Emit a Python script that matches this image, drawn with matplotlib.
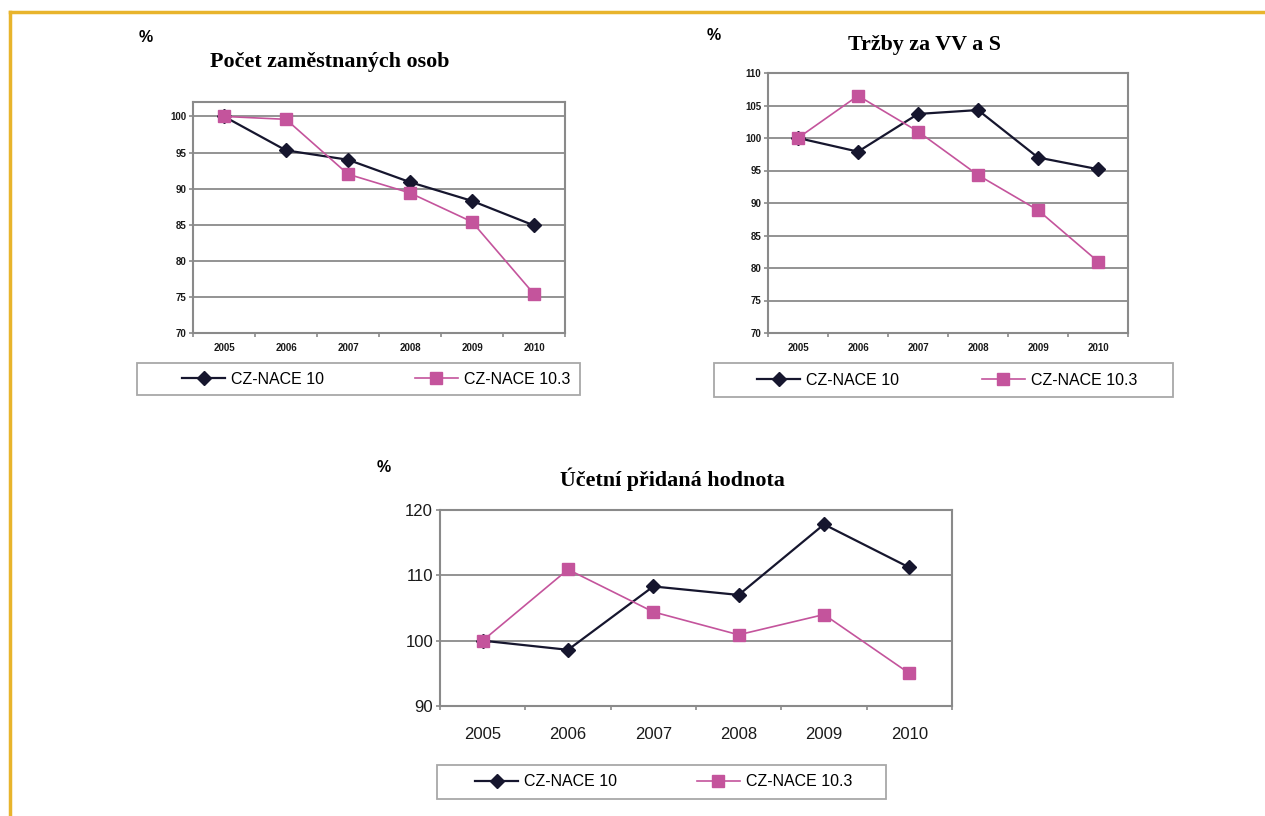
import matplotlib
matplotlib.use("Agg")
import matplotlib.pyplot as plt
from matplotlib.lines import Line2D
from matplotlib.patches import Rectangle
from matplotlib.ticker import FixedLocator

# Data
years = ["2005", "2006", "2007", "2008", "2009", "2010"]
series_names = ["CZ-NACE 10", "CZ-NACE 10.3"]

employees_10 = [100, 95.3, 94.0, 90.9, 88.3, 84.9]
employees_103 = [100, 99.6, 92.0, 89.4, 85.4, 75.4]

sales_10 = [100, 97.9, 103.7, 104.3, 97.0, 95.2]
sales_103 = [100, 106.5, 101.0, 94.3, 88.9, 81.0]

value_added_10 = [100, 98.6, 108.3, 107.0, 117.8, 111.2]
value_added_103 = [100, 110.9, 104.4, 100.9, 104.0, 95.0]

titles = ["Počet zaměstnaných osob", "Tržby za VV a S", "Účetní přidaná hodnota"]

DARK = "#16162e"
PINK = "#c4549c"
GRID = "#8a8a8a"
GOLD = "#e8b42c"

plt.rcParams["font.family"] = ["Liberation Sans", "DejaVu Sans"]

W, H = 1265, 816
fig = plt.figure(figsize=(W / 100, H / 100), dpi=100)

# gold frame lines (top and left)
fig.add_artist(Line2D([0.008, 1.0], [1 - 11.5 / H] * 2, color=GOLD, lw=2.5,
                      transform=fig.transFigure))
fig.add_artist(Line2D([10 / W] * 2, [0.0, 1 - 11.5 / H], color=GOLD, lw=2.5,
                      transform=fig.transFigure))


def frac_rect(x0, y0, x1, y1):
    return [x0 / W, 1 - y1 / H, (x1 - x0) / W, (y1 - y0) / H]


def draw_panel(rect, s10, s103, ylim, yticks, tick_size, tick_weight, xpad,
               title, title_xy, pct_xy, box_rect, legend_rect):
    ax = fig.add_axes(rect)
    x = list(range(len(years)))
    # second series drawn on top, like the original
    ax.plot(x, s10, color=DARK, lw=1.6, marker="D", ms=7,
            label=series_names[0], zorder=3)
    ax.plot(x, s103, color=PINK, lw=1.2, marker="s", ms=8.5,
            label=series_names[1], zorder=4)
    ax.set_xlim(-0.5, len(years) - 0.5)
    ax.set_ylim(*ylim)
    ax.set_yticks(yticks)
    ax.set_xticks(x)
    ax.set_xticklabels(years)
    ax.xaxis.set_minor_locator(FixedLocator([i - 0.5 for i in range(len(years) + 1)]))
    ax.tick_params(axis="x", which="major", length=0, pad=xpad)
    ax.tick_params(axis="x", which="minor", length=3, color=GRID, width=1.2)
    ax.tick_params(axis="y", length=3, color=GRID, width=1.2, pad=2)
    for lab in ax.get_xticklabels() + ax.get_yticklabels():
        lab.set_fontsize(tick_size)
        lab.set_fontweight(tick_weight)
        lab.set_color("#1a1a1a")
    ax.grid(axis="y", color=GRID, lw=1.3)
    ax.set_axisbelow(True)
    for sp in ax.spines.values():
        sp.set_color(GRID)
        sp.set_linewidth(1.5)

    fig.text(title_xy[0], title_xy[1], title, ha="center", va="center",
             family="Liberation Serif", fontweight="bold", fontsize=15.8)
    fig.text(pct_xy[0], pct_xy[1], "%", ha="center", va="center",
             fontweight="bold", fontsize=11.5)

    # legend box
    fig.add_artist(Rectangle((box_rect[0], box_rect[1]), box_rect[2], box_rect[3],
                             transform=fig.transFigure, fill=False,
                             edgecolor="#a8a8a8", lw=1.3))
    fig.legend(handles=ax.get_lines(), loc="center", ncol=2,
               bbox_to_anchor=legend_rect, bbox_transform=fig.transFigure,
               mode="expand", fontsize=11.5, frameon=False,
               handlelength=2.7, handletextpad=0.35, borderpad=0,
               borderaxespad=0)
    return ax


draw_panel(frac_rect(193, 102, 565, 333), employees_10, employees_103,
           (70, 102), list(range(70, 101, 5)), 7, "bold", 7,
           titles[0], (330 / W, 1 - 62 / H), (146 / W, 1 - 38 / H),
           frac_rect(137, 363, 580, 395), frac_rect(182, 363, 570, 395))

draw_panel(frac_rect(768, 73, 1128, 333), sales_10, sales_103,
           (70, 110), list(range(70, 111, 5)), 7, "bold", 7,
           titles[1], (924 / W, 1 - 45 / H), (714 / W, 1 - 36 / H),
           frac_rect(714, 363, 1173, 397), frac_rect(757, 363, 1137, 397))

draw_panel(frac_rect(440, 510, 952, 706), value_added_10, value_added_103,
           (90, 120), [90, 100, 110, 120], 12, "normal", 15,
           titles[2], (672 / W, 1 - 479 / H), (384 / W, 1 - 467 / H),
           frac_rect(437, 765, 886, 799), frac_rect(475, 765, 852, 799))

fig.savefig("out.png", dpi=100, facecolor="white")
